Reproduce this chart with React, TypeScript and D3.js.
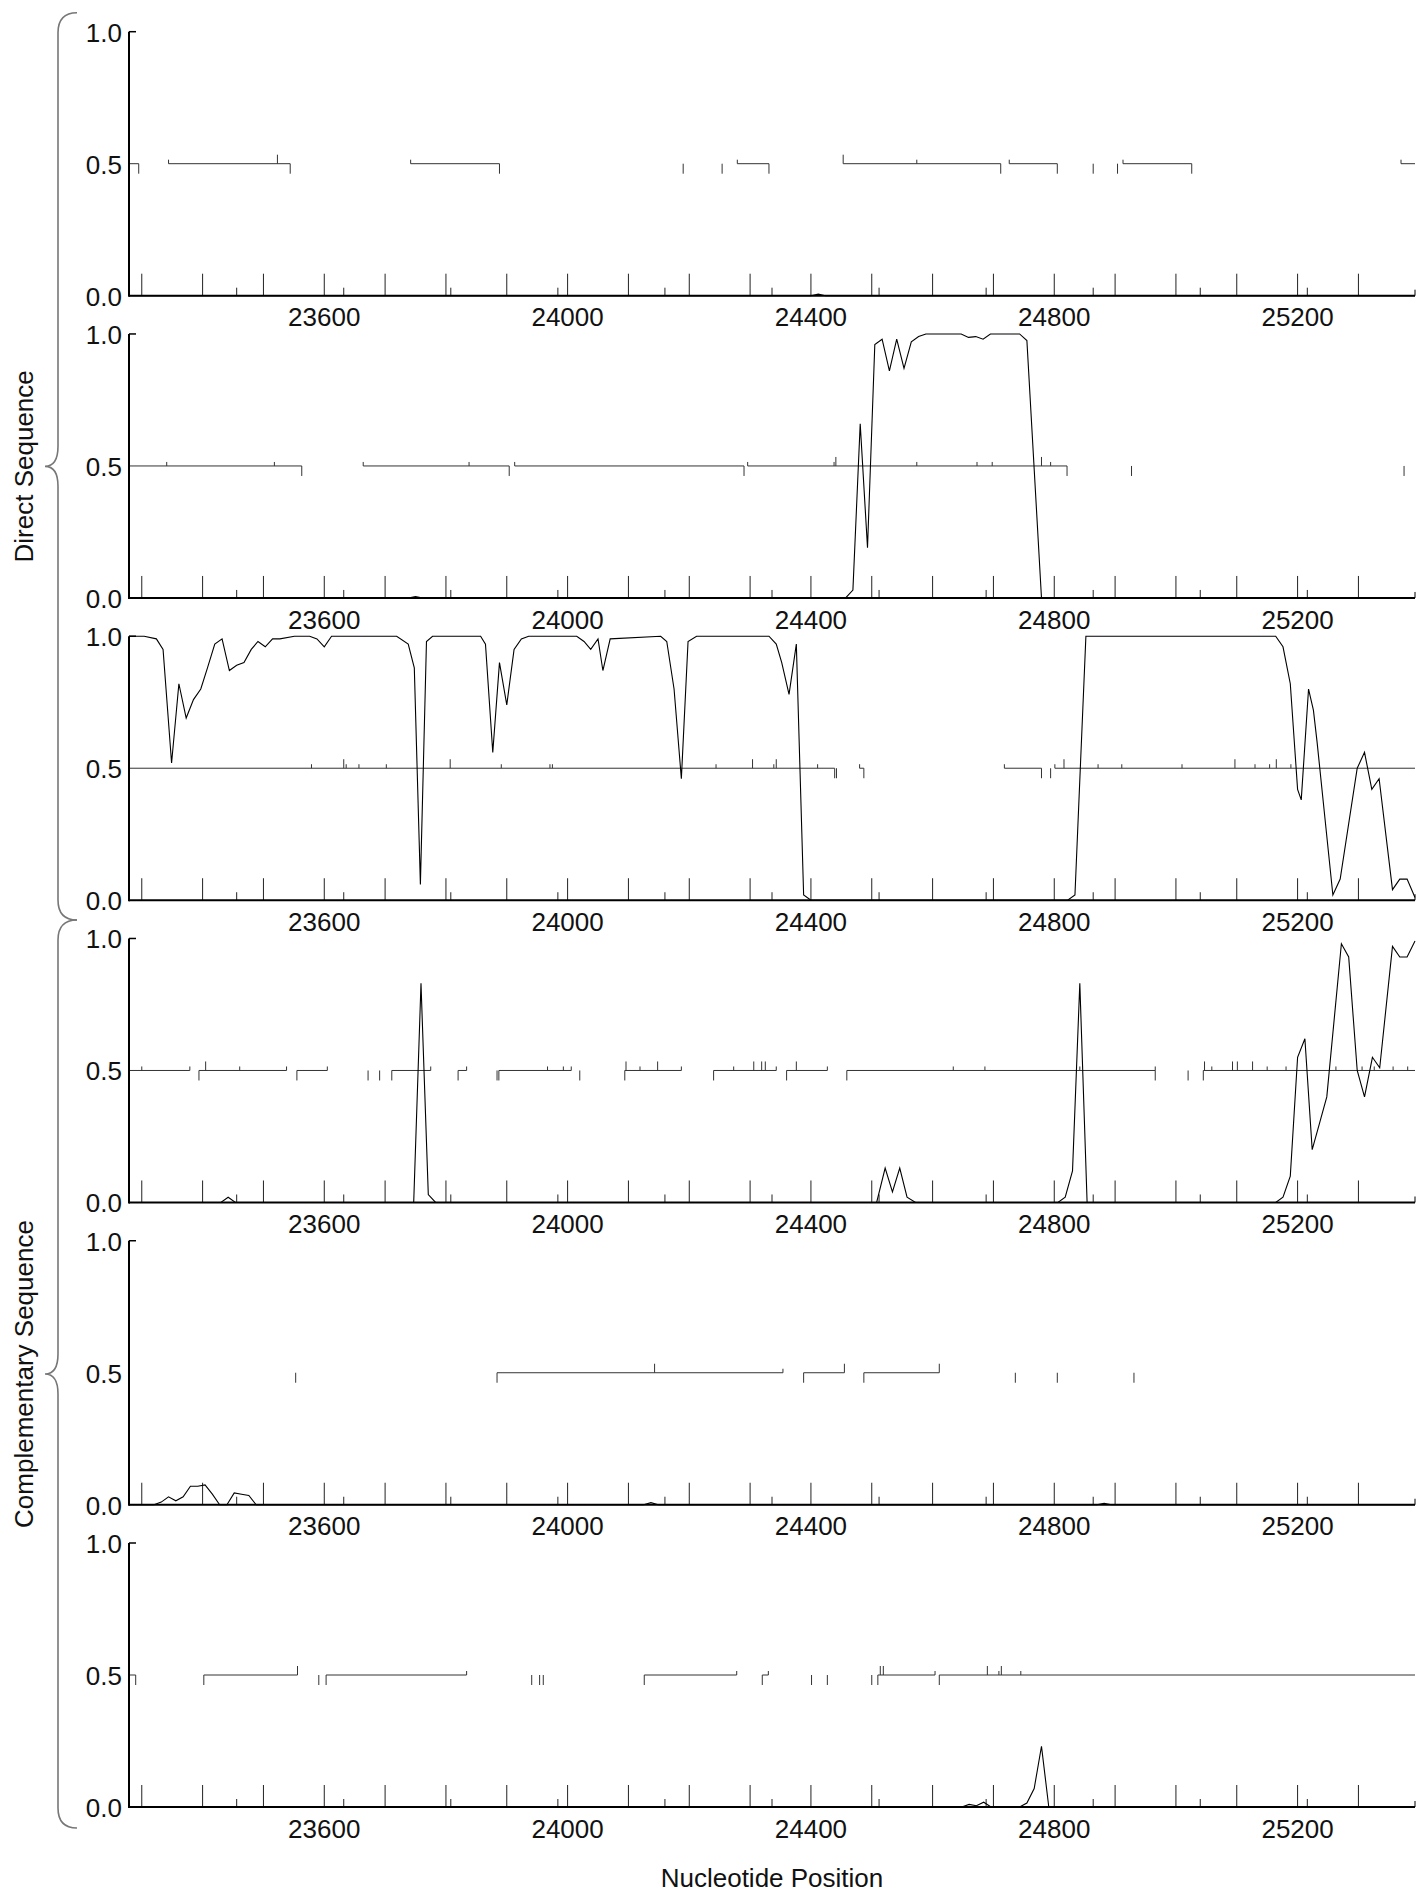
import React from 'react';
import * as d3 from 'd3';

// ---------- data ----------
const xDomain: [number, number] = [23279, 25393];
const xTickLabels = [23600, 24000, 24400, 24800, 25200];
const majorTicks = [23300, 23400, 23500, 23600, 23700, 23800, 23900, 24000, 24100, 24200, 24300, 24400, 24500, 24600, 24700, 24800, 24900, 25000, 25100, 25200, 25300];
const minorTicks = [23456, 23632, 23808, 23984, 24160, 24336, 24512, 24688, 24864, 25040, 25216];
const yTickLabels = [0.0, 0.5, 1.0];
const groupLabels = ['Direct Sequence', 'Complementary Sequence'];
const xTitle = 'Nucleotide Position';

// panel 1 (direct, frame 1)
const curve1: [number, number][] = [[23279, 0], [24400, 0], [24412, 0.006], [24424, 0], [25393, 0]];
const orfs1: [number, number][] = [[23279, 23295], [23344, 23544], [23742, 23888], [24279, 24331], [24453, 24712], [24726, 24805], [24913, 25026], [25370, 25393]];
const stops1 = [23295, 23544, 23888, 24190, 24254, 24331, 24712, 24805, 24864, 24904, 25026];
const startsTall1 = [23523, 24453];
const startsSmall1 = [23344, 23742, 24279, 24574, 24726, 24913, 25370];

// panel 2 (direct, frame 2)
const curve2: [number, number][] = [[23279, 0], [23738, 0], [23750, 0.005], [23762, 0], [24457, 0], [24469, 0.03], [24481, 0.66], [24493, 0.19], [24505, 0.96], [24517, 0.98], [24529, 0.86], [24541, 0.98], [24553, 0.87], [24565, 0.97], [24577, 0.99], [24589, 1.0], [24647, 1.0], [24659, 0.987], [24671, 0.99], [24683, 0.98], [24695, 1.0], [24743, 1.0], [24755, 0.975], [24779, 0], [25393, 0]];
const orfs2: [number, number][] = [[23279, 23563], [23664, 23904], [23913, 24290], [24296, 24821]];
const stops2 = [23563, 23904, 24290, 24821, 24927, 25375];
const startsTall2 = [24441, 24779];
const startsSmall2 = [23341, 23518, 23664, 23838, 23913, 24296, 24438, 24574, 24673, 24698, 24794];

// panel 3 (direct, frame 3)
const curve3: [number, number][] = [[23279, 1.0], [23304, 1.0], [23324, 0.99], [23335, 0.95], [23349, 0.52], [23361, 0.82], [23373, 0.69], [23385, 0.76], [23397, 0.80], [23408, 0.88], [23420, 0.97], [23432, 0.99], [23444, 0.87], [23456, 0.89], [23468, 0.90], [23480, 0.95], [23491, 0.98], [23503, 0.96], [23515, 0.99], [23527, 0.99], [23551, 1.0], [23576, 1.0], [23588, 0.99], [23600, 0.96], [23612, 1.0], [23719, 1.0], [23738, 0.97], [23748, 0.88], [23758, 0.06], [23768, 0.98], [23778, 1.0], [23857, 1.0], [23865, 0.97], [23877, 0.56], [23888, 0.90], [23900, 0.74], [23912, 0.95], [23924, 0.99], [23936, 1.0], [24015, 1.0], [24027, 0.98], [24038, 0.95], [24050, 0.99], [24058, 0.87], [24070, 0.99], [24153, 1.0], [24163, 0.98], [24175, 0.80], [24187, 0.46], [24198, 0.98], [24212, 1.0], [24331, 1.0], [24343, 0.97], [24352, 0.90], [24364, 0.78], [24376, 0.97], [24388, 0.02], [24400, 0.0], [24822, 0.0], [24834, 0.02], [24852, 1.0], [25164, 1.0], [25176, 0.96], [25188, 0.82], [25200, 0.42], [25206, 0.38], [25218, 0.80], [25226, 0.72], [25232, 0.60], [25258, 0.02], [25270, 0.08], [25298, 0.50], [25310, 0.56], [25322, 0.42], [25334, 0.46], [25356, 0.04], [25368, 0.08], [25380, 0.08], [25393, 0.01]];
const orfs3: [number, number][] = [[23279, 24439], [24480, 24487], [24718, 24779], [24801, 25393]];
const stops3 = [24439, 24442, 24487, 24779, 24794];
const startsTall3 = [23632, 23807, 24304, 24343, 24816, 25097, 25165];
const startsSmall3 = [23579, 23636, 23657, 23702, 23891, 23971, 23975, 24244, 24339, 24411, 24480, 24718, 24801, 24872, 24911, 25010, 25130, 25154, 25189];

// panel 4 (complementary, frame 1)
const curve4: [number, number][] = [[23279, 0], [23430, 0], [23442, 0.02], [23454, 0], [23747, 0], [23759, 0.83], [23771, 0.03], [23783, 0], [24508, 0], [24522, 0.13], [24534, 0.04], [24546, 0.13], [24558, 0.02], [24572, 0], [24806, 0], [24818, 0.02], [24830, 0.12], [24842, 0.83], [24854, 0], [25164, 0], [25176, 0.02], [25188, 0.10], [25200, 0.55], [25212, 0.62], [25224, 0.20], [25236, 0.30], [25248, 0.40], [25272, 0.98], [25284, 0.93], [25298, 0.50], [25310, 0.40], [25323, 0.55], [25335, 0.51], [25356, 0.97], [25368, 0.93], [25380, 0.93], [25393, 0.99]];
const orfs4: [number, number][] = [[23279, 23379], [23394, 23538], [23555, 23605], [23711, 23775], [23820, 23834], [23887, 24006], [24094, 24187], [24240, 24343], [24360, 24427], [24459, 24966], [25045, 25393]];
const stops4 = [23394, 23555, 23672, 23691, 23711, 23820, 23884, 23887, 24020, 24094, 24240, 24360, 24459, 24966, 25020, 25045];
const startsTall4 = [23405, 24096, 24148, 24306, 24319, 24325, 24376, 25047, 25093, 25101, 25126];
const startsSmall4 = [23300, 23379, 23461, 23538, 23605, 23775, 23834, 23967, 23993, 24006, 24119, 24187, 24273, 24343, 24427, 24634, 24686, 24842, 24966, 25059, 25150, 25181, 25263, 25306, 25326, 25357, 25381];

// panel 5 (complementary, frame 2)
const curve5: [number, number][] = [[23279, 0], [23320, 0], [23332, 0.01], [23344, 0.03], [23356, 0.015], [23368, 0.03], [23380, 0.07], [23392, 0.07], [23404, 0.075], [23416, 0.04], [23428, 0], [23440, 0], [23452, 0.045], [23464, 0.04], [23476, 0.035], [23488, 0], [24125, 0], [24137, 0.008], [24149, 0], [24870, 0], [24882, 0.005], [24894, 0], [25393, 0]];
const orfs5: [number, number][] = [[23884, 24354], [24388, 24455], [24487, 24611]];
const stops5 = [23553, 23884, 24388, 24487, 24736, 24805, 24931];
const startsTall5 = [24143, 24455, 24611];
const startsSmall5 = [24354];

// panel 6 (complementary, frame 3)
const curve6: [number, number][] = [[23279, 0], [24648, 0], [24660, 0.01], [24672, 0.005], [24684, 0.018], [24696, 0], [24743, 0], [24755, 0.015], [24767, 0.07], [24779, 0.23], [24791, 0], [25393, 0]];
const orfs6: [number, number][] = [[23279, 23290], [23402, 23556], [23603, 23834], [24126, 24278], [24320, 24330], [24510, 24604], [24611, 25393]];
const stops6 = [23290, 23402, 23591, 23603, 23941, 23954, 23960, 24126, 24320, 24401, 24427, 24500, 24510, 24611];
const startsTall6 = [23556, 24514, 24519, 24690, 24713];
const startsSmall6 = [23834, 24278, 24330, 24604, 24709, 24745];

const panels = [
  { curve: curve1, orfs: orfs1, stops: stops1, tall: startsTall1, small: startsSmall1 },
  { curve: curve2, orfs: orfs2, stops: stops2, tall: startsTall2, small: startsSmall2 },
  { curve: curve3, orfs: orfs3, stops: stops3, tall: startsTall3, small: startsSmall3 },
  { curve: curve4, orfs: orfs4, stops: stops4, tall: startsTall4, small: startsSmall4 },
  { curve: curve5, orfs: orfs5, stops: stops5, tall: startsTall5, small: startsSmall5 },
  { curve: curve6, orfs: orfs6, stops: stops6, tall: startsTall6, small: startsSmall6 },
];

// ---------- layout ----------
const W = 1421;
const H = 1892;
const LEFT = 129;
const RIGHT = 1415;
const TOP0 = 31.7;
const PITCH = 302.26;
const PH = 264;
const FONT = "'Liberation Sans', Arial, Helvetica, sans-serif";

const x = d3.scaleLinear().domain(xDomain).range([LEFT, RIGHT]);

function Panel({ idx, p }: { idx: number; p: typeof panels[number] }) {
  const top = TOP0 + PITCH * idx;
  const bottom = top + PH;
  const y = d3.scaleLinear().domain([0, 1]).range([bottom, top]);
  const line = d3
    .line<[number, number]>()
    .x((d) => x(d[0]))
    .y((d) => y(d[1]));
  const yMid = y(0.5);
  return (
    <g>
      {majorTicks.map((t) => (
        <line key={'M' + t} x1={x(t)} x2={x(t)} y1={bottom} y2={bottom - 22} stroke="#222" strokeWidth={1} />
      ))}
      {minorTicks.map((t) => (
        <line key={'m' + t} x1={x(t)} x2={x(t)} y1={bottom} y2={bottom - 8} stroke="#222" strokeWidth={1} />
      ))}
      {p.orfs.map((o, i) => (
        <line key={'o' + i} x1={x(o[0])} x2={x(o[1])} y1={yMid} y2={yMid} stroke="#333" strokeWidth={1} />
      ))}
      {p.stops.map((s, i) => (
        <line key={'s' + i} x1={x(s)} x2={x(s)} y1={yMid} y2={yMid + 10} stroke="#333" strokeWidth={1} />
      ))}
      {p.tall.map((s, i) => (
        <line key={'t' + i} x1={x(s)} x2={x(s)} y1={yMid} y2={yMid - 9} stroke="#333" strokeWidth={1} />
      ))}
      {p.small.map((s, i) => (
        <line key={'q' + i} x1={x(s)} x2={x(s)} y1={yMid} y2={yMid - 4} stroke="#333" strokeWidth={1} />
      ))}
      <path d={line(p.curve) || ''} fill="none" stroke="#000" strokeWidth={1.1} strokeLinejoin="miter" />
      <line x1={LEFT} x2={LEFT} y1={top} y2={bottom + 1} stroke="#000" strokeWidth={2} />
      <line x1={LEFT} x2={LEFT + 7} y1={top} y2={top} stroke="#000" strokeWidth={1.5} />
      <line x1={LEFT} x2={RIGHT} y1={bottom} y2={bottom} stroke="#000" strokeWidth={2} />
      <line x1={RIGHT} x2={RIGHT} y1={bottom} y2={bottom - 6} stroke="#000" strokeWidth={1} />
      {yTickLabels.map((v) => (
        <text key={'y' + v} x={122} y={y(v) + 10} textAnchor="end" fontSize={26} fontFamily={FONT} fill="#111">
          {v.toFixed(1)}
        </text>
      ))}
      {xTickLabels.map((v) => (
        <text key={'x' + v} x={x(v)} y={bottom + 30.7} textAnchor="middle" fontSize={26} fontFamily={FONT} fill="#111">
          {v}
        </text>
      ))}
    </g>
  );
}

function bracePath(y0: number, y1: number) {
  const xe = 77;
  const xv = 58;
  const xc = 45;
  const r = 20;
  const ym = (y0 + y1) / 2;
  return `M${xe},${y0} Q${xv},${y0} ${xv},${y0 + r} L${xv},${ym - r} Q${xv},${ym} ${xc},${ym} Q${xv},${ym} ${xv},${ym + r} L${xv},${y1 - r} Q${xv},${y1} ${xe},${y1}`;
}

export default function App() {
  const braces: [number, number][] = [
    [12.7, 920],
    [920, 1828],
  ];
  return (
    <svg
      width={W}
      height={H}
      viewBox={`0 0 ${W} ${H}`}
      style={{ position: 'absolute', left: 0, top: 0, display: 'block', background: '#fff' }}
    >
      <rect x={0} y={0} width={W} height={H} fill="#fff" />
      {panels.map((p, i) => (
        <Panel key={i} idx={i} p={p} />
      ))}
      {braces.map((b, i) => (
        <g key={'b' + i}>
          <path d={bracePath(b[0], b[1])} fill="none" stroke="#777" strokeWidth={1.6} />
          <text
            transform={`translate(33,${(b[0] + b[1]) / 2}) rotate(-90)`}
            textAnchor="middle"
            fontSize={26}
            fontFamily={FONT}
            fill="#111"
          >
            {groupLabels[i]}
          </text>
        </g>
      ))}
      <text x={(LEFT + RIGHT) / 2} y={1887} textAnchor="middle" fontSize={26} fontFamily={FONT} fill="#111">
        {xTitle}
      </text>
    </svg>
  );
}
